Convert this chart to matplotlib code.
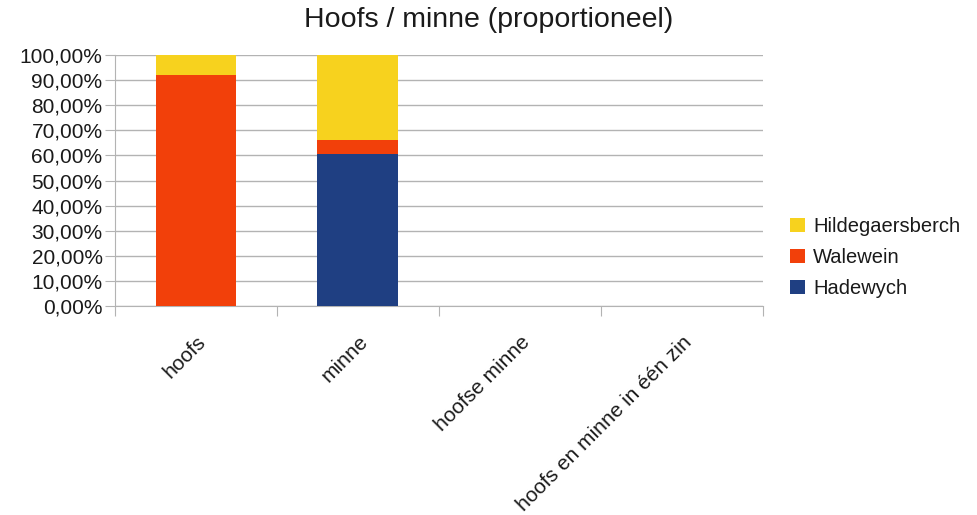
import numpy as np
import matplotlib
matplotlib.use("Agg")
from matplotlib import pyplot as plt
from matplotlib.ticker import FuncFormatter

categories = ['hoofs', 'minne', 'hoofse minne', 'hoofs en minne in één zin']
hadewych = [0.0, 60.7, 0.0, 0.0]
walewein = [91.9, 5.3, 0.0, 0.0]
hildegaersberch = [8.1, 34.0, 0.0, 0.0]

plt.rcParams['font.family'] = ['Liberation Sans', 'DejaVu Sans']

fig = plt.figure(figsize=(9.78, 5.15), dpi=100)
ax = fig.add_axes([0.1176, 0.406, 0.6625, 0.487])

x = np.arange(len(categories))
had = np.array(hadewych)
wal = np.array(walewein)
hil = np.array(hildegaersberch)

ax.bar(x, had, 0.5, color='#1f3f82', label='Hadewych', zorder=3)
ax.bar(x, wal, 0.5, bottom=had, color='#f2400a', label='Walewein', zorder=3)
ax.bar(x, hil, 0.5, bottom=had + wal, color='#f7d21e', label='Hildegaersberch', zorder=3)

ax.set_xlim(-0.5, len(categories) - 0.5)
ax.set_ylim(0, 100)
ax.set_yticks(np.arange(0, 101, 10))
ax.yaxis.set_major_formatter(FuncFormatter(lambda v, p: ('%.2f%%' % v).replace('.', ',')))
ax.grid(axis='y', color='#b3b3b3', linewidth=1, zorder=0)

ax.set_xticks(np.arange(-0.5, len(categories), 1.0))
ax.set_xticklabels([])
ax.set_xticks(x, minor=True)
ax.set_xticklabels(categories, minor=True, rotation=45, ha='right',
                   rotation_mode='anchor', fontsize=15, color='#1a1a1a')
ax.tick_params(axis='x', which='minor', length=0, pad=19)
ax.tick_params(axis='x', which='major', length=7, color='#b3b3b3')
ax.tick_params(axis='y', length=7, color='#b3b3b3', labelsize=15, pad=2,
               labelcolor='#1a1a1a')

for s in ['top', 'right']:
    ax.spines[s].set_visible(False)
ax.spines['left'].set_color('#b3b3b3')
ax.spines['bottom'].set_color('#b3b3b3')

fig.text(0.5, 0.962, 'Hoofs / minne (proportioneel)', fontsize=20.5,
         ha='center', va='center', color='#1a1a1a')

h, l = ax.get_legend_handles_labels()
leg = fig.legend(h[::-1], l[::-1], loc='center left', bbox_to_anchor=(0.789, 0.5),
                 frameon=False, fontsize=14.5, handlelength=0.75, handleheight=0.75,
                 handletextpad=0.4, labelspacing=0.6)
for t in leg.get_texts():
    t.set_color('#1a1a1a')

fig.savefig('out.png', dpi=100)
